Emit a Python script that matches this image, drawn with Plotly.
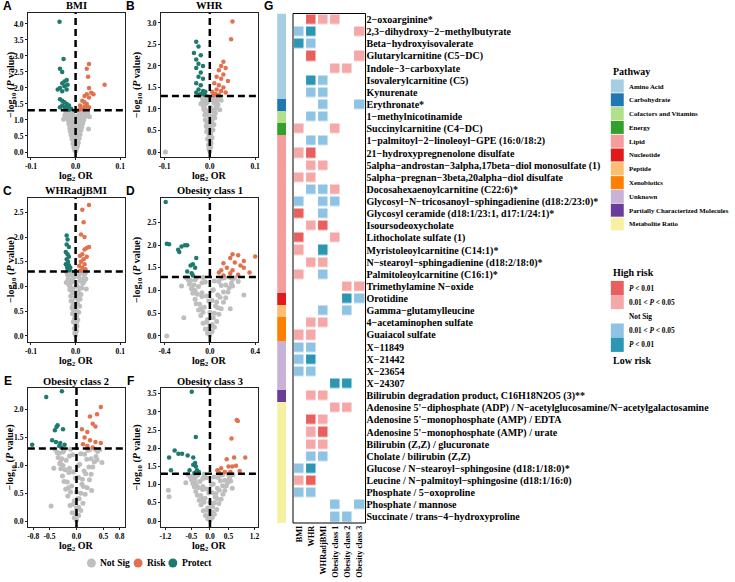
import plotly.graph_objects as go

W, H = 735, 582
def px(x): return x / W
def py(y): return 1 - y / H

SERIF = "Liberation Serif"
SANS = "Liberation Sans"
C_NS, C_RISK, C_PROT = "#BEBEBE", "#E2714E", "#1E7A6F"

# ---------------- volcano data (log2 OR, -log10 P) ----------------
A_ns = [(0.000,0.02),(-0.002,0.06),(0.002,0.09),(-0.004,0.14),(0.004,0.17),(0.000,0.20),(-0.006,0.26),(0.006,0.29),(-0.002,0.32),(0.003,0.36),(-0.008,0.40),(0.008,0.43),(0.000,0.46),(-0.010,0.52),(0.010,0.55),(-0.004,0.58),(0.005,0.61),(-0.012,0.65),(0.012,0.68),(-0.001,0.70),(-0.013,0.75),(0.014,0.78),(-0.007,0.80),(0.008,0.83),(-0.015,0.87),(0.016,0.90),(0.002,0.92),(-0.016,0.97),(0.018,1.00),(-0.010,1.02),(0.011,1.04),(-0.018,1.07),(0.019,1.09),(-0.004,1.11),(0.005,1.13),(-0.019,1.16),(0.021,1.18),(-0.013,1.20),(0.014,1.21),(-0.021,1.23),(0.023,1.25),(-0.007,1.26),(0.008,1.27),(-0.022,1.28),(0.025,1.29),(-0.016,1.28),(0.017,1.29),(0.027,1.22),(-0.024,1.15),(0.031,1.10),(-0.027,1.02),(0.029,0.72),
        (-0.003,0.30),(0.004,0.50),(-0.006,0.50),(0.007,0.62),(-0.009,0.70),(0.010,0.85),(-0.011,0.92),(0.013,0.95),(-0.014,1.00),(0.015,1.12),(-0.016,1.12),(0.020,1.28),(-0.012,1.28),(0.004,1.02),(-0.004,0.88),(0.002,0.78),(-0.006,1.17),(0.009,1.20),(0.012,1.29),(-0.019,1.29),(0.021,1.10),(-0.017,1.21),(-0.010,0.60),(0.001,0.40),(0.003,0.25),(-0.001,0.15),(0.006,0.75),(-0.008,0.95)]
A_risk = [(0.030,2.75),(0.025,2.60),(0.028,2.35),(0.065,2.10),(0.030,2.00),(0.035,1.85),(0.025,1.80),(0.020,1.75),(0.030,1.70),(0.040,1.80),(0.015,1.60),(0.020,1.55),(0.025,1.50),(0.010,1.45),(0.020,1.42),(0.030,1.40),(0.012,1.35),(0.018,1.33),(0.008,1.32),(0.022,1.38)]
A_prot = [(-0.036,4.07),(-0.027,2.90),(-0.035,2.60),(-0.030,2.50),(-0.020,2.25),(-0.025,2.20),(-0.030,2.15),(-0.018,2.10),(-0.035,2.00),(-0.025,2.05),(-0.020,1.95),(-0.030,1.90),(-0.040,1.95),(-0.035,1.65),(-0.030,1.60),(-0.025,1.55),(-0.020,1.50),(-0.015,1.45),(-0.030,1.45),(-0.025,1.40),(-0.020,1.38),(-0.010,1.35),(-0.035,1.40),(-0.015,1.32)]

B_ns = [(0.000,0.02),(-0.002,0.07),(0.002,0.11),(-0.003,0.16),(0.003,0.20),(0.000,0.25),(-0.005,0.30),(0.005,0.34),(-0.002,0.38),(0.002,0.42),(-0.007,0.47),(0.007,0.51),(0.000,0.55),(-0.008,0.60),(0.009,0.64),(-0.004,0.67),(0.004,0.70),(-0.010,0.75),(0.011,0.79),(-0.001,0.82),(-0.011,0.86),(0.012,0.90),(-0.006,0.92),(0.007,0.95),(-0.013,0.99),(0.014,1.02),(0.001,1.04),(-0.014,1.08),(0.016,1.11),(-0.008,1.13),(0.009,1.15),(-0.015,1.18),(0.017,1.20),(-0.003,1.22),(0.004,1.24),(-0.016,1.26),(0.019,1.27),(-0.011,1.28),(0.012,1.29),(-0.018,1.29),(0.021,1.28),(-0.006,1.29),(0.025,1.20),(-0.020,1.12),(0.022,0.98),(-0.098,0.00),
        (-0.003,0.30),(0.003,0.50),(-0.005,0.52),(0.006,0.62),(-0.007,0.70),(0.008,0.85),(-0.009,0.92),(0.010,0.97),(-0.011,1.00),(0.012,1.12),(-0.012,1.12),(0.015,1.29),(-0.010,1.24),(0.003,1.02),(-0.003,0.88),(0.002,0.78),(-0.005,1.17),(0.007,1.20),(0.010,1.27),(-0.015,1.22),(0.018,1.10),(-0.013,1.05),(-0.007,0.60),(0.001,0.40),(0.002,0.25),(-0.001,0.15),(0.005,0.75),(-0.006,0.95)]
B_risk = [(0.050,3.03),(0.047,2.62),(0.030,2.10),(0.025,2.00),(0.035,1.95),(0.020,1.90),(0.030,1.80),(0.015,1.75),(0.025,1.70),(0.040,1.65),(0.010,1.60),(0.020,1.55),(0.030,1.50),(0.015,1.45),(0.025,1.42),(0.005,1.40),(0.035,1.38),(0.012,1.35),(0.020,1.33),(0.008,1.32)]
B_prot = [(-0.030,2.56),(-0.025,2.45),(-0.035,2.30),(-0.020,2.25),(-0.030,2.15),(-0.025,2.05),(-0.015,2.00),(-0.030,1.95),(-0.020,1.85),(-0.025,1.75),(-0.015,1.70),(-0.030,1.60),(-0.020,1.55),(-0.025,1.45),(-0.015,1.42),(-0.010,1.40),(-0.030,1.38),(-0.020,1.35),(-0.012,1.33),(-0.025,1.32)]

C_ns = [(0.000,0.02),(-0.002,0.06),(0.002,0.10),(-0.003,0.15),(0.003,0.19),(0.000,0.23),(-0.005,0.28),(0.005,0.32),(-0.002,0.36),(0.002,0.40),(-0.007,0.45),(0.007,0.48),(0.000,0.52),(-0.008,0.57),(0.009,0.60),(-0.004,0.63),(0.004,0.66),(-0.010,0.71),(0.010,0.74),(-0.001,0.77),(-0.011,0.81),(0.012,0.84),(-0.006,0.87),(0.006,0.90),(-0.013,0.94),(0.014,0.97),(0.001,1.00),(-0.015,1.03),(0.016,1.06),(-0.008,1.09),(0.009,1.11),(-0.017,1.14),(0.018,1.16),(-0.003,1.19),(0.004,1.21),(-0.018,1.23),(0.020,1.25),(-0.010,1.27),(0.011,1.28),(-0.020,1.29),(0.022,1.28),(-0.005,1.29),(0.023,1.15),(-0.021,1.08),(0.024,0.95),
        (-0.003,0.30),(0.003,0.50),(-0.005,0.52),(0.006,0.62),(-0.008,0.70),(0.008,0.85),(-0.010,0.92),(0.011,0.97),(-0.012,1.00),(0.013,1.12),(-0.013,1.12),(0.017,1.29),(-0.011,1.24),(0.003,1.02),(-0.003,0.88),(0.002,0.78),(-0.006,1.17),(0.007,1.20),(0.012,1.27),(-0.016,1.22),(0.019,1.10),(-0.014,1.05),(-0.007,0.60),(0.001,0.40),(0.002,0.25),(-0.001,0.15),(0.005,0.75),(-0.006,0.95)]
C_risk = [(0.030,2.65),(0.015,2.55),(0.018,2.30),(0.012,2.05),(0.020,2.00),(0.030,1.80),(0.025,1.78),(0.020,1.75),(0.015,1.65),(0.010,1.62),(0.025,1.60),(0.018,1.55),(0.012,1.50),(0.020,1.45),(0.008,1.42),(0.015,1.38),(0.022,1.35),(0.010,1.32)]
C_prot = [(-0.020,2.03),(-0.018,1.95),(-0.020,1.85),(-0.015,1.80),(-0.022,1.70),(-0.018,1.65),(-0.015,1.60),(-0.020,1.55),(-0.017,1.50),(-0.022,1.45),(-0.015,1.43),(-0.019,1.40),(-0.012,1.38),(-0.018,1.36),(-0.014,1.33)]

D_ns = [(0.00,0.02),(-0.02,0.06),(0.02,0.10),(-0.04,0.15),(0.04,0.19),(0.00,0.23),(-0.06,0.28),(0.06,0.32),(-0.02,0.36),(0.03,0.40),(-0.08,0.45),(0.08,0.48),(0.00,0.52),(-0.10,0.57),(0.10,0.60),(-0.05,0.63),(0.05,0.66),(-0.12,0.71),(0.12,0.74),(-0.01,0.77),(-0.13,0.81),(0.14,0.84),(-0.07,0.87),(0.07,0.90),(-0.15,0.94),(0.16,0.97),(0.02,1.00),(-0.16,1.03),(0.17,1.06),(-0.10,1.09),(0.10,1.11),(-0.18,1.14),(0.19,1.16),(-0.04,1.19),(0.04,1.21),(-0.19,1.23),(0.20,1.25),(-0.12,1.27),(0.13,1.28),(-0.21,1.29),(0.22,1.28),(-0.06,1.29),(0.30,0.90),(0.25,1.20),(-0.23,0.40),(-0.25,1.10),(0.18,0.60),(-0.38,0.00),
        (-0.03,0.30),(0.04,0.50),(-0.06,0.52),(0.07,0.62),(-0.09,0.70),(0.09,0.85),(-0.11,0.92),(0.12,0.97),(-0.13,1.00),(0.14,1.12),(-0.14,1.12),(0.18,1.29),(-0.13,1.24),(0.03,1.02),(-0.03,0.88),(0.02,0.78),(-0.07,1.17),(0.08,1.20),(0.11,1.27),(-0.17,1.22),(0.20,1.10),(-0.16,1.05),(-0.08,0.60),(0.01,0.40),(0.02,0.25),(-0.01,0.15),(0.06,0.75),(-0.07,0.95)]
D_risk = [(0.20,1.80),(0.25,1.78),(0.18,1.72),(0.30,1.65),(0.22,1.62),(0.40,1.75),(0.12,1.60),(0.27,1.55),(0.15,1.50),(0.10,1.45),(0.20,1.45),(0.30,1.50),(0.08,1.40),(0.18,1.38),(0.25,1.35),(0.12,1.33),(0.35,1.40)]
D_prot = [(-0.39,2.95),(-0.38,2.03),(-0.36,2.02),(-0.28,1.90),(-0.25,1.97),(-0.22,2.00),(-0.20,2.00),(-0.27,1.85),(-0.12,1.72),(-0.15,1.58),(-0.17,1.55),(-0.13,1.50),(-0.20,1.42),(-0.16,1.38),(-0.15,1.33)]

E_ns = [(0.00,0.02),(-0.04,0.06),(0.04,0.10),(-0.08,0.15),(0.08,0.19),(0.00,0.23),(-0.12,0.28),(0.12,0.32),(-0.04,0.36),(0.05,0.40),(-0.16,0.45),(0.16,0.48),(0.00,0.52),(-0.20,0.57),(0.20,0.60),(-0.09,0.63),(0.10,0.66),(-0.23,0.71),(0.24,0.74),(-0.02,0.77),(-0.26,0.81),(0.27,0.84),(-0.14,0.87),(0.14,0.90),(-0.29,0.94),(0.30,0.97),(0.03,1.00),(-0.31,1.03),(0.33,1.06),(-0.19,1.09),(0.19,1.11),(-0.34,1.14),(0.36,1.16),(-0.07,1.19),(0.08,1.21),(-0.36,1.23),(0.39,1.25),(-0.23,1.27),(0.24,1.28),(-0.40,1.29),(0.43,1.28),(-0.11,1.29),(-0.47,0.27),(0.47,1.05),(-0.42,0.95),(0.28,0.55),
        (-0.06,0.30),(0.08,0.50),(-0.11,0.52),(0.13,0.62),(-0.17,0.70),(0.17,0.85),(-0.21,0.92),(0.23,0.97),(-0.25,1.00),(0.27,1.12),(-0.27,1.12),(0.34,1.29),(-0.25,1.24),(0.06,1.02),(-0.06,0.88),(0.04,0.78),(-0.13,1.17),(0.15,1.20),(0.21,1.27),(-0.32,1.22),(0.38,1.10),(-0.30,1.05),(-0.15,0.60),(0.02,0.40),(0.04,0.25),(-0.02,0.15),(0.11,0.75),(-0.13,0.95)]
E_risk = [(0.45,2.05),(0.38,1.92),(0.25,1.88),(0.30,1.75),(0.10,1.65),(0.35,1.70),(0.20,1.60),(0.15,1.50),(0.25,1.45),(0.35,1.42),(0.45,1.40),(0.12,1.38),(0.30,1.32),(0.20,1.35)]
E_prot = [(-0.27,2.33),(-0.56,2.23),(-0.35,1.72),(-0.37,1.69),(-0.40,1.63),(-0.25,1.65),(-0.45,1.45),(-0.38,1.42),(-0.30,1.40),(-0.32,1.35),(-0.82,1.37),(-0.22,1.37),(-0.28,1.32)]

F_ns = [(0.00,0.02),(-0.06,0.06),(0.06,0.10),(-0.12,0.15),(0.12,0.19),(0.00,0.23),(-0.18,0.28),(0.18,0.32),(-0.06,0.36),(0.07,0.40),(-0.24,0.45),(0.24,0.48),(0.00,0.52),(-0.29,0.57),(0.30,0.60),(-0.13,0.63),(0.14,0.66),(-0.34,0.71),(0.35,0.74),(-0.03,0.77),(-0.38,0.81),(0.40,0.84),(-0.20,0.87),(0.20,0.90),(-0.42,0.94),(0.44,0.97),(0.04,1.00),(-0.46,1.03),(0.48,1.06),(-0.27,1.09),(0.28,1.11),(-0.50,1.14),(0.52,1.16),(-0.10,1.19),(0.11,1.21),(-0.54,1.23),(0.56,1.25),(-0.33,1.27),(0.34,1.28),(-0.60,1.29),(0.62,1.28),(-0.16,1.29),(-1.12,0.85),(-1.10,0.67),(0.60,0.90),(-0.65,1.05),
        (-0.09,0.30),(0.12,0.50),(-0.16,0.52),(0.19,0.62),(-0.25,0.70),(0.25,0.85),(-0.31,0.92),(0.34,0.97),(-0.37,1.00),(0.40,1.12),(-0.40,1.12),(0.50,1.29),(-0.37,1.24),(0.09,1.02),(-0.09,0.88),(0.06,0.78),(-0.19,1.17),(0.22,1.20),(0.31,1.27),(-0.47,1.22),(0.56,1.10),(-0.44,1.05),(-0.22,0.60),(0.03,0.40),(0.06,0.25),(-0.03,0.15),(0.16,0.75),(-0.19,0.95)]
F_risk = [(0.72,2.78),(0.75,2.75),(0.58,2.27),(0.65,1.75),(0.45,1.70),(0.95,1.75),(0.50,1.50),(0.60,1.50),(0.70,1.52),(0.30,1.45),(0.20,1.40),(0.55,1.35),(0.80,1.38),(0.40,1.35),(0.25,1.32)]
F_prot = [(-0.49,3.56),(-0.38,2.31),(-0.95,1.94),(-1.10,1.75),(-0.85,1.85),(-0.75,1.85),(-1.05,1.40),(-0.60,1.80),(-0.45,1.75),(-0.40,1.60),(-0.38,1.50),(-0.45,1.55),(-0.35,1.40),(-0.30,1.35),(-0.55,1.40),(-0.42,1.32)]

SIG_LINE = 1.30103  # -log10(0.05)

# ---------------- heatmap data ----------------
outcomes = ["BMI", "WHR", "WHRadjBMI", "Obesity class 1", "Obesity class 2", "Obesity class 3"]
metabolites = [
    "2−oxoarginine*", "2,3−dihydroxy−2−methylbutyrate", "Beta−hydroxyisovalerate",
    "Glutarylcarnitine (C5−DC)", "Indole−3−carboxylate", "Isovalerylcarnitine (C5)", "Kynurenate",
    "Erythronate*", "1−methylnicotinamide", "Succinylcarnitine (C4−DC)",
    "1−palmitoyl−2−linoleoyl−GPE (16:0/18:2)", "21−hydroxypregnenolone disulfate",
    "5alpha−androstan−3alpha,17beta−diol monosulfate (1)", "5alpha−pregnan−3beta,20alpha−diol disulfate",
    "Docosahexaenoylcarnitine (C22:6)*", "Glycosyl−N−tricosanoyl−sphingadienine (d18:2/23:0)*",
    "Glycosyl ceramide (d18:1/23:1, d17:1/24:1)*", "Isoursodeoxycholate", "Lithocholate sulfate (1)",
    "Myristoleoylcarnitine (C14:1)*", "N−stearoyl−sphingadienine (d18:2/18:0)*",
    "Palmitoleoylcarnitine (C16:1)*", "Trimethylamine N−oxide", "Orotidine",
    "Gamma−glutamylleucine", "4−acetaminophen sulfate", "Guaiacol sulfate",
    "X−11849", "X−21442", "X−23654", "X−24307",
    "Bilirubin degradation product, C16H18N2O5 (3)**",
    "Adenosine 5'−diphosphate (ADP) / N−acetylglucosamine/N−acetylgalactosamine",
    "Adenosine 5'−monophosphate (AMP) / EDTA", "Adenosine 5'−monophosphate (AMP) / urate",
    "Bilirubin (Z,Z) / glucuronate", "Cholate / bilirubin (Z,Z)",
    "Glucose / N−stearoyl−sphingosine (d18:1/18:0)*", "Leucine / N−palmitoyl−sphingosine (d18:1/16:0)",
    "Phosphate / 5−oxoproline", "Phosphate / mannose", "Succinate / trans−4−hydroxyproline",
]
# 2: P<0.01 risk, 1: 0.01<P<0.05 risk, 0: not sig, -1: 0.01<P<0.05 protect, -2: P<0.01 protect
sig_levels = [
    [0, 2, 1, 1, 0, 0], [-1, -2, 0, 0, 0, 1], [-2, -1, 0, 0, 0, 0], [0, 2, 0, 0, 0, 1],
    [0, 0, 0, 1, 1, 0], [0, -2, -1, 0, 0, 0], [0, -1, -1, 0, 0, 0], [0, 0, -1, 0, 0, -1],
    [0, -1, -1, 0, 0, 0], [1, 0, 0, 1, 0, 0], [0, -1, -1, 0, 0, 0], [1, 2, 0, 0, 0, 0],
    [0, 1, 1, 0, 0, 0], [1, 1, 0, 0, 0, 0], [0, -1, -1, 1, 0, 0], [-1, 0, -1, -1, 0, 0],
    [2, 0, -1, 0, 0, 0], [0, 1, 2, 0, 0, 0], [2, 0, 0, 1, 0, 0], [1, 0, -2, 0, 0, 0],
    [0, 1, 1, 0, 0, 0], [1, 0, -1, 0, 0, 0], [0, 0, 0, 0, 1, 1], [0, 0, 0, 0, -2, -1],
    [0, 0, -1, 0, -1, 0], [0, 1, 1, 0, 0, 0], [1, 1, 0, 0, 0, 0], [-1, -1, 0, 0, 0, 0],
    [-1, -2, 0, 0, 0, 0], [-1, -1, 0, 0, 0, 0], [0, 0, 0, -2, -2, 0], [0, 1, 1, 0, 0, 0],
    [0, 0, 0, 1, 1, 0], [0, 2, 1, 0, 0, 0], [0, 1, 2, 0, 0, 0], [0, 1, 1, 0, 0, 0],
    [0, -1, -1, 0, 0, 0], [-1, -2, 0, 0, 0, 0], [1, 2, 0, 0, 0, 0], [-1, -1, 0, 0, 0, 0],
    [0, 0, 0, -1, 0, -1], [0, 0, 0, -1, -1, 0],
]
pathway_names = ["Amino Acid", "Carbohydrate", "Cofactors and Vitamins", "Energy", "Lipid",
                 "Nucleotide", "Peptide", "Xenobiotics", "Unknown",
                 "Partially Characterized Molecules", "Metabolite Ratio"]
pathway_colors = ["#A6CEE3", "#1F78B4", "#B2DF8A", "#33A02C", "#F59D9C", "#E31A1C",
                  "#FDBF6F", "#FF7F00", "#CAB2D6", "#6A3D9A", "#F6F1A0"]
row_pathway = (["Amino Acid"] * 7 + ["Carbohydrate", "Cofactors and Vitamins", "Energy"]
               + ["Lipid"] * 13 + ["Nucleotide", "Peptide"] + ["Xenobiotics"] * 2
               + ["Unknown"] * 4 + ["Partially Characterized Molecules"] + ["Metabolite Ratio"] * 10)
sig_labels = ["<i>P</i> < 0.01", "0.01 < <i>P</i> < 0.05", "Not Sig", "0.01 < <i>P</i> < 0.05", "<i>P</i> < 0.01"]
sig_colors = ["#E8605E", "#F5A8A8", "#FFFFFF", "#8FC3E3", "#2B97B3"]  # 2,1,0,-1,-2

fig = go.Figure()
layout = dict(width=W, height=H, margin=dict(l=0, r=0, t=0, b=0),
              paper_bgcolor="white", plot_bgcolor="white", showlegend=False)
annotations, shapes = [], []

def ann(x, y, text, size=9.5, family=SERIF, xanchor="center", yanchor="middle", angle=0, weight="bold"):
    annotations.append(dict(x=px(x), y=py(y), xref="paper", yref="paper", text=text, showarrow=False,
                            xanchor=xanchor, yanchor=yanchor, textangle=angle,
                            font=dict(family=family, size=size, color="black", weight=weight)))

cols = [(25, 123), (159, 257)]
rows = [(13, 157), (198, 342), (388, 527)]
panels = [
    ("A", "BMI", A_ns, A_risk, A_prot, [-0.107, 0.111], [-0.156, 4.34], [-0.1, 0, 0.1], [i * 0.5 for i in range(9)]),
    ("B", "WHR", B_ns, B_risk, B_prot, [-0.108, 0.107], [-0.116, 3.23], [-0.1, 0, 0.1], [i * 0.5 for i in range(7)]),
    ("C", "WHRadjBMI", C_ns, C_risk, C_prot, [-0.107, 0.111], [-0.123, 2.79], [-0.1, 0, 0.1], [i * 0.5 for i in range(6)]),
    ("D", "Obesity class 1", D_ns, D_risk, D_prot, [-0.432, 0.427], [-0.134, 3.04], [-0.4, 0, 0.4], [i * 0.5 for i in range(6)]),
    ("E", "Obesity class 2", E_ns, E_risk, E_prot, [-0.90, 0.90], [-0.107, 2.39], [-0.8, -0.5, 0, 0.5, 0.8], [i * 0.5 for i in range(5)]),
    ("F", "Obesity class 3", F_ns, F_risk, F_prot, [-1.32, 1.30], [-0.164, 3.66], [-1.2, -0.5, 0, 0.5, 1.2], [i * 0.5 for i in range(8)]),
]

tickfont = dict(family=SERIF, size=7.5, color="black", weight="bold")
for i, (letter, title, ns, risk, prot, xr, yr, xt, yt) in enumerate(panels):
    n = i + 1
    sfx = "" if n == 1 else str(n)
    c0, c1 = cols[i % 2]
    r0, r1 = rows[i // 2]
    xa, ya = "x" + sfx, "y" + sfx
    for data, color, size in ((ns, C_NS, 5), (risk, C_RISK, 4.5), (prot, C_PROT, 4.5)):
        fig.add_trace(go.Scatter(x=[p[0] for p in data], y=[p[1] for p in data], mode="markers",
                                 marker=dict(size=size, color=color), xaxis=xa, yaxis=ya, hoverinfo="skip"))
    ax = dict(domain=[px(c0), px(c1)], range=xr, tickvals=xt, ticktext=[f"{v:.1f}".replace("-", "-") for v in xt],
              showgrid=False, zeroline=False, showline=True, linecolor="#222", linewidth=0.8, mirror=True,
              ticks="outside", ticklen=2, tickcolor="#222", tickfont=tickfont, anchor=ya)
    ay = dict(domain=[py(r1), py(r0)], range=yr, tickvals=yt, ticktext=[f"{v:.1f}" for v in yt],
              showgrid=False, zeroline=False, showline=True, linecolor="#222", linewidth=0.8, mirror=True,
              ticks="outside", ticklen=2, tickcolor="#222", tickfont=tickfont, anchor=xa)
    layout["xaxis" + sfx] = ax
    layout["yaxis" + sfx] = ay
    shapes.append(dict(type="line", xref=xa, yref=f"{ya} domain", x0=0, x1=0, y0=0, y1=1,
                       line=dict(color="black", width=2.5, dash="7px,4px")))
    shapes.append(dict(type="line", xref=f"{xa} domain", yref=ya, x0=0, x1=1, y0=SIG_LINE, y1=SIG_LINE,
                       line=dict(color="black", width=2.5, dash="7px,4px")))
    cx = (c0 + c1) / 2
    ann(cx, r0 - 7, title, size=10.5)
    ann(cx, r1 + 19, "log<sub>2</sub> OR", size=10)
    ann(8 if i % 2 == 0 else 135, (r0 + r1) / 2, "−log<sub>10</sub> (<i>P</i> value)", size=10, angle=-90)
    ann(5 if i % 2 == 0 else 128, r0 - 7, letter, size=12, family=SANS)

# bottom legend (Not Sig / Risk / Protect)
for cxp, color, label in ((89, C_NS, "Not Sig"), (136, C_RISK, "Risk"), (171, C_PROT, "Protect")):
    shapes.append(dict(type="circle", xref="paper", yref="paper", x0=px(cxp - 4.5), x1=px(cxp + 4.5),
                       y0=py(567.5), y1=py(558.5), fillcolor=color, line=dict(width=0)))
    ann(cxp + 7, 563, label, size=9.5, xanchor="left")

# ---------------- heatmap G ----------------
nrow = len(metabolites)
hx0, hx1, hy0, hy1 = 292, 365, 13.5, 523
lvl_order = [2, 1, 0, -1, -2]
colorscale = []
for k, lv in enumerate([-2, -1, 0, 1, 2]):
    col = sig_colors[lvl_order.index(lv)]
    colorscale += [[k / 5, col], [(k + 1) / 5, col]]
fig.add_trace(go.Heatmap(z=sig_levels, x=list(range(6)), y=list(range(nrow)), zmin=-2.5, zmax=2.5,
                         colorscale=colorscale, showscale=False, xgap=2.5, ygap=2.5,
                         xaxis="x7", yaxis="y7", hoverinfo="skip"))
layout["xaxis7"] = dict(domain=[px(hx0), px(hx1)], range=[-0.5, 5.5], tickvals=list(range(6)),
                        ticktext=[f"<b>{o}</b>" for o in outcomes], tickangle=-90, showgrid=False,
                        zeroline=False, ticks="", tickfont=dict(family=SERIF, size=8.3, color="black"),
                        anchor="y7")
layout["yaxis7"] = dict(domain=[py(hy1), py(hy0)], range=[nrow - 0.5, -0.5], tickvals=list(range(nrow)),
                        ticktext=[f"<b>{m}</b>" for m in metabolites], side="right", showgrid=False,
                        zeroline=False, ticks="", tickfont=dict(family=SERIF, size=10, color="black"),
                        anchor="x7")
shapes.append(dict(type="rect", xref="x7 domain", yref="y7 domain", x0=0, x1=1, y0=0, y1=1,
                   line=dict(color="black", width=1)))

npw = len(pathway_names)
pw_scale = []
for k, col in enumerate(pathway_colors):
    pw_scale += [[k / npw, col], [(k + 1) / npw, col]]
fig.add_trace(go.Heatmap(z=[[pathway_names.index(p)] for p in row_pathway], x=[0], y=list(range(nrow)),
                         zmin=-0.5, zmax=npw - 0.5, colorscale=pw_scale, showscale=False,
                         xaxis="x8", yaxis="y8", hoverinfo="skip"))
layout["xaxis8"] = dict(domain=[px(276), px(285)], range=[-0.5, 0.5], visible=False, anchor="y8")
layout["yaxis8"] = dict(domain=[py(hy1), py(hy0)], range=[nrow - 0.5, -0.5], visible=False, anchor="x8")
ann(267, 6, "G", size=12, family=SANS)

# pathway legend
ann(612, 71, "Pathway", size=10, xanchor="left")
for k, (name, col) in enumerate(zip(pathway_names, pathway_colors)):
    yc = 86 + k * 13.8
    shapes.append(dict(type="rect", xref="paper", yref="paper", x0=px(612), x1=px(625),
                       y0=py(yc + 6.5), y1=py(yc - 6.5), fillcolor=col, line=dict(width=0)))
    ann(628, yc, name, size=6.8, xanchor="left")

# significance legend
ann(612, 272, "High risk", size=10, xanchor="left")
for k, (lab, col) in enumerate(zip(sig_labels, sig_colors)):
    yc = 288 + k * 14.2
    shapes.append(dict(type="rect", xref="paper", yref="paper", x0=px(612), x1=px(625),
                       y0=py(yc + 7.1), y1=py(yc - 7.1), fillcolor=col, line=dict(width=0)))
    ann(628, yc, lab, size=7.3, xanchor="left")
ann(612, 360, "Low risk", size=10, xanchor="left")

layout["annotations"] = annotations
layout["shapes"] = shapes
fig.update_layout(**layout)
fig.write_html("out.html", config={"displayModeBar": False},
               post_script="document.body.style.margin='0';document.body.style.overflow='hidden';")
